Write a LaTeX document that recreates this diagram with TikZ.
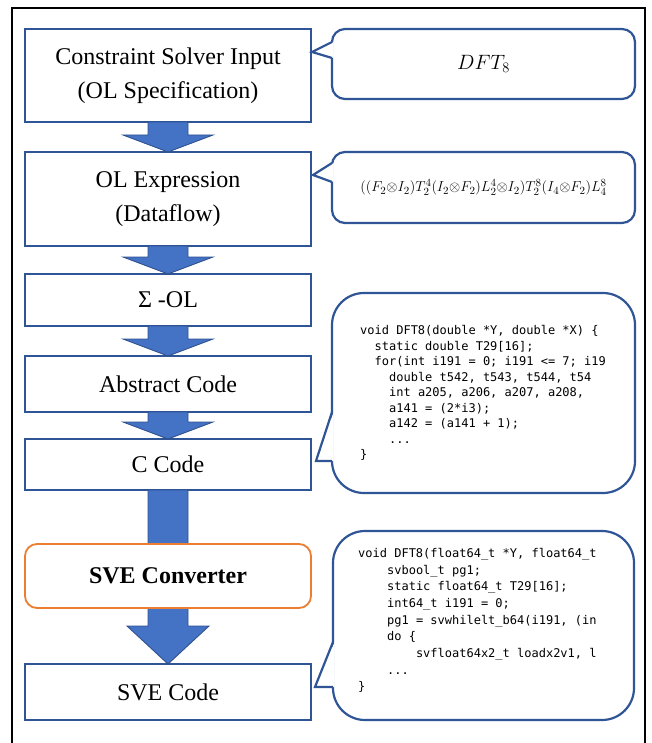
\documentclass[tikz,border=0pt]{standalone}
\usepackage{fontspec}
\setmainfont{Liberation Serif}
\newfontfamily\codefont{DejaVu Sans Mono}
\usetikzlibrary{calc}
\definecolor{boxblue}{HTML}{2F5597}
\definecolor{arrfill}{HTML}{4472C4}
\definecolor{arredge}{HTML}{2F528F}
\definecolor{convorange}{HTML}{ED7D31}
\newcommand{\indA}{\phantom{xx}}
\newcommand{\indB}{\phantom{xxxx}}
\newcommand{\indC}{\phantom{xxxxxxxx}}
\newcommand{\blockarr}[4]{%
  \draw[arrowsty] ($(#1.south)+(-20,0)$) -- ($(#1.south)+(20,0)$)
    -- ($(#2.north)+(20,-#3)$) -- ($(#2.north)+(#4,-#3)$) -- (#2.north)
    -- ($(#2.north)+(-#4,-#3)$) -- ($(#2.north)+(-20,-#3)$) -- cycle;}
\tikzset{
  stagebox/.style={draw=boxblue, line width=1.8pt, fill=white, minimum width=286,
    align=center, inner sep=0, outer sep=0, font=\fontsize{24}{34}\selectfont},
  arrowsty/.style={fill=arrfill, draw=arredge, line width=0.9pt, line join=miter},
  callout/.style={draw=boxblue, line width=2.2pt, fill=white, inner sep=0, outer sep=0},
  calloutline/.style={draw=boxblue, line width=2.2pt},
  codetext/.style={font=\codefont\fontsize{12}{15.5}\selectfont, align=left, inner sep=0, anchor=north west},
}
\begin{document}
\begin{tikzpicture}[x=1pt, y=-1pt]
\useasboundingbox (0,0) rectangle (651,743);
% outer frame
\draw[black, line width=2pt] (12,750) -- (12,8) -- (645,8) -- (645,750);

% stages
\node[stagebox, minimum height=93] (b1) at (168,75.5) {Constraint Solver Input\\(OL Specification)};
\node[stagebox, minimum height=94] (b2) at (168,199) {OL Expression\\(Dataflow)};
\node[stagebox, minimum height=52] (b3) at (168,300) {Σ -OL};
\node[stagebox, minimum height=56] (b4) at (168,384) {Abstract Code};
\node[stagebox, minimum height=51] (b5) at (168,464.5) {C Code};
\node[stagebox, minimum height=56] (b7) at (168,692) {SVE Code};

% block arrows
\blockarr{b1}{b2}{17}{45}
\blockarr{b2}{b3}{17}{45}
\blockarr{b3}{b4}{17}{45}
\blockarr{b4}{b5}{17}{45}
\blockarr{b5}{b7}{38}{41}

\node[stagebox, draw=convorange, rounded corners=12, minimum height=64,
  font=\bfseries\fontsize{24}{34}\selectfont] (b6) at (168,576) {SVE Converter};

% callout 1
\node[callout, rounded corners=13, minimum width=303, minimum height=70] (c1) at (483.5,64)
  {\fontsize{19.5}{23}\selectfont $DFT_8$};
\fill[white] (333.6,42) -- (312,52) -- (333.6,58) -- cycle;
\draw[calloutline] (332,42) -- (312,52) -- (332,58);

% callout 2
\node[callout, rounded corners=13, minimum width=303, minimum height=71] (c2) at (483.5,187.5)
  {\fontsize{15.5}{18}\selectfont $((F_2{\otimes}I_2)T_2^4(I_2{\otimes}F_2)L_2^4{\otimes}I_2)T_2^8(I_4{\otimes}F_2)L_4^8$};
\fill[white] (333.6,163) -- (313,175) -- (333.6,182) -- cycle;
\draw[calloutline] (332,163) -- (313,175) -- (332,182);

% callout 3 (C code)
\node[callout, rounded corners=32, minimum width=303, minimum height=200] (c3) at (483.5,393) {};
\fill[white] (333.6,412) -- (316,461) -- (333.6,461) -- cycle;
\draw[calloutline] (332,412) -- (316,461) -- (332,461);
\node[codetext] (k3) at (360,325.5) {void DFT8(double *Y, double *X) \{\\
\indA static double T29[16];\\
\indA for(int i191 = 0; i191 <= 7; i19\\
\indB double t542, t543, t544, t54\\
\indB int a205, a206, a207, a208,\\
\indB a141 = (2*i3);\\
\indB a142 = (a141 + 1);\\
\indB ...\\
\}};

% callout 4 (SVE code)
\node[callout, rounded corners=32, minimum width=301, minimum height=189] (c4) at (483.5,625.5) {};
\fill[white] (334.6,642) -- (315,687) -- (334.6,687) -- cycle;
\draw[calloutline] (333,642) -- (315,687) -- (333,687);
\node[codetext, font=\codefont\fontsize{12}{16.7}\selectfont] (k4) at (358,548) {void DFT8(float64\_t *Y, float64\_t\\
\indB svbool\_t pg1;\\
\indB static float64\_t T29[16];\\
\indB int64\_t i191 = 0;\\
\indB pg1 = svwhilelt\_b64(i191, (in\\
\indB do \{\\
\indC svfloat64x2\_t loadx2v1, l\\
\indB ...\\
\}};
\end{tikzpicture}
\end{document}
